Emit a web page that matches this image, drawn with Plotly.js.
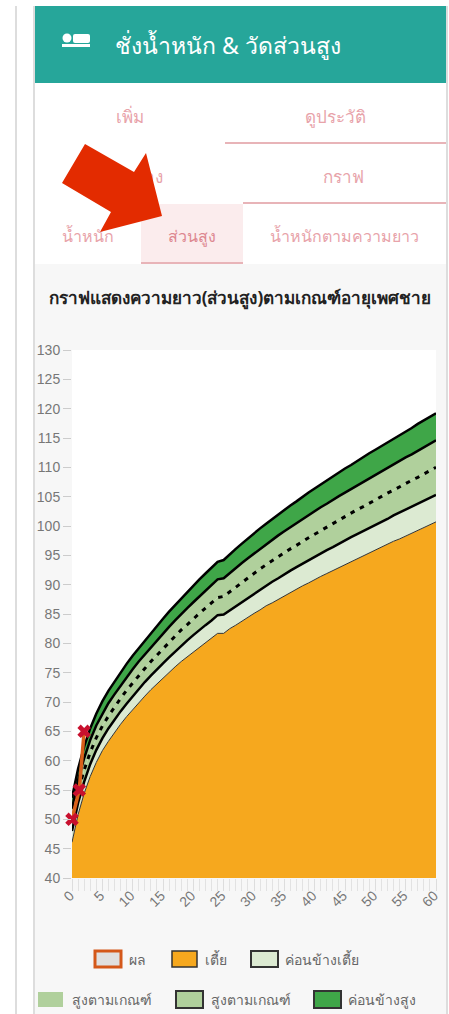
<!DOCTYPE html>
<html><head><meta charset="utf-8">
<script src="https://cdn.plot.ly/plotly-3.0.1.min.js"></script>
<style>
html,body{margin:0;padding:0;background:#fff;width:449px;height:1014px;overflow:hidden;font-family:"Noto Sans","Open Sans",sans-serif}
#page{position:absolute;left:0;top:0;width:449px;height:1014px}
.a{position:absolute}
.t{position:absolute;transform:translate(-50%,-50%);white-space:nowrap;color:#e8a3aa;font-size:16px}
#chart{position:absolute;left:0;top:0;width:449px;height:1014px}
</style></head><body>
<div id="page">
<div class="a" style="left:15px;top:6px;width:2px;height:1008px;background:#ddd"></div>
<div class="a" style="left:33px;top:6px;width:415px;height:1008px;background:#ddd"></div>
<div class="a" style="left:35px;top:6px;width:411px;height:258px;background:#fff"></div>
<div class="a" style="left:35px;top:264px;width:411px;height:750px;background:#f7f7f7"></div>
<div class="a" style="left:35px;top:6px;width:411px;height:77px;background:#26a69a"></div>
<svg class="a" style="left:60px;top:32px" width="32" height="20"><circle cx="7" cy="6" r="4.5" fill="#fff"/><rect x="13" y="2" width="17" height="9" rx="2" fill="#fff"/><rect x="2" y="12" width="28" height="3" fill="#fff"/></svg>
<div class="t" style="left:228px;top:46px;color:#fff;font-size:23px">ชั่งน้ำหนัก &amp; วัดส่วนสูง</div>
<div class="t" style="left:130px;top:116px;font-size:17px">เพิ่ม</div>
<div class="t" style="left:335px;top:116px;font-size:17px">ดูประวัติ</div>
<div class="a" style="left:225px;top:142px;width:221px;height:2px;background:#e8b4b8"></div>
<div class="t" style="left:139px;top:176px;font-size:17px">ตาราง</div>
<div class="t" style="left:343px;top:176px;font-size:17px">กราฟ</div>
<div class="a" style="left:243px;top:202px;width:203px;height:2px;background:#e8b4b8"></div>
<div class="a" style="left:141px;top:204px;width:102px;height:58px;background:#fbeced"></div>
<div class="a" style="left:141px;top:262px;width:102px;height:2px;background:#e8b4b8"></div>
<div class="t" style="left:88px;top:236px">น้ำหนัก</div>
<div class="t" style="left:192px;top:236px;color:#dd8790">ส่วนสูง</div>
<div class="t" style="left:344px;top:236px">น้ำหนักตามความยาว</div>
<svg class="a" style="left:0;top:0" width="449" height="264"><polygon points="85,144 134,172 146,153 162,216 100,232 111,212 62,183" fill="#e32b00"/></svg>
<div id="chart"></div>
</div>
<script>
var months=[];for(var m=0;m<=60;m++)months.push(m);
var sdMinus2=[46.1,50.8,54.4,57.3,59.7,61.7,63.3,64.8,66.2,67.5,68.7,69.9,71.0,72.1,73.1,74.1,75.0,76.0,76.9,77.7,78.6,79.4,80.2,81.0,81.7,81.7,82.5,83.1,83.8,84.5,85.1,85.7,86.4,86.9,87.5,88.1,88.7,89.2,89.8,90.3,90.9,91.4,91.9,92.4,93.0,93.5,94.0,94.4,94.9,95.4,95.9,96.4,96.9,97.4,97.8,98.3,98.8,99.3,99.7,100.2,100.7];
var sdMinus1=[48.0,52.8,56.4,59.4,61.8,63.8,65.5,67.0,68.4,69.7,71.0,72.2,73.4,74.5,75.6,76.6,77.6,78.6,79.6,80.5,81.4,82.3,83.1,83.9,84.8,84.9,85.6,86.4,87.1,87.8,88.5,89.2,89.9,90.5,91.1,91.8,92.4,93.0,93.6,94.2,94.7,95.3,95.9,96.4,97.0,97.5,98.1,98.6,99.1,99.7,100.2,100.7,101.2,101.8,102.3,102.8,103.3,103.8,104.3,104.8,105.3];
var median=[49.9,54.7,58.4,61.4,63.9,65.9,67.6,69.2,70.6,72.0,73.3,74.5,75.7,76.9,78.0,79.1,80.2,81.2,82.3,83.2,84.2,85.1,86.0,86.9,87.8,88.0,88.8,89.6,90.4,91.2,91.9,92.7,93.4,94.1,94.8,95.4,96.1,96.7,97.4,98.0,98.6,99.2,99.9,100.4,101.0,101.6,102.2,102.8,103.3,103.9,104.4,105.0,105.6,106.1,106.7,107.2,107.8,108.3,108.9,109.4,110.0];
var sdPlus1=[51.8,56.7,60.4,63.5,66.0,68.0,69.8,71.3,72.8,74.2,75.6,76.9,78.1,79.3,80.5,81.7,82.8,83.9,85.0,86.0,87.0,88.0,89.0,89.9,90.9,91.1,92.0,92.9,93.7,94.5,95.3,96.1,96.9,97.6,98.4,99.1,99.8,100.5,101.2,101.8,102.5,103.2,103.8,104.5,105.1,105.7,106.3,107.0,107.5,108.1,108.7,109.3,109.9,110.5,111.1,111.7,112.2,112.8,113.4,114.0,114.6];
var sdPlus2=[53.7,58.6,62.4,65.5,68.0,70.1,71.9,73.5,75.0,76.5,77.9,79.2,80.5,81.8,83.0,84.2,85.4,86.5,87.7,88.8,89.8,90.9,91.9,92.9,93.9,94.2,95.2,96.1,97.0,97.9,98.7,99.6,100.4,101.2,102.0,102.7,103.5,104.2,105.0,105.7,106.4,107.1,107.8,108.5,109.1,109.8,110.4,111.1,111.7,112.4,113.0,113.6,114.2,114.9,115.5,116.1,116.7,117.4,118.0,118.6,119.2];
var resultAge=[0,1.2,2];
var resultHeight=[50,55,65];
var legendNames=["ผล","เตี้ย","ค่อนข้างเตี้ย","สูงตามเกณฑ์","สูงตามเกณฑ์","ค่อนข้างสูง"];
var cOrange="#f6a81e",cLight="#dcead2",cMid="#b0d09c",cDark="#3fa648";
function band(y,fill,color,width,dash,name,mode){return {x:months,y:y,type:"scatter",mode:"lines",fill:mode,fillcolor:fill,name:name,hoverinfo:"skip",line:{color:color,width:width,dash:dash||"solid",shape:"linear"}};}
var traces=[
 band(sdMinus2,cOrange,"#333",1,null,legendNames[1],"tozeroy"),
 band(sdMinus1,cLight,"#000",2.5,null,legendNames[2],"tonexty"),
 band(median,cMid,"#000",3,"4.5px 6px",legendNames[3],"tonexty"),
 band(sdPlus1,cMid,"#000",2.5,null,legendNames[4],"tonexty"),
 band(sdPlus2,cDark,"#000",2.5,null,legendNames[5],"tonexty"),
 {x:resultAge,y:resultHeight,type:"scatter",mode:"lines+markers",name:legendNames[0],cliponaxis:false,
  line:{color:"#d9601a",width:3.5},marker:{symbol:"x",size:12,color:"#c8102e",line:{width:0}}}
];
var W=449,H=1014,L=72,T=350,PW=364,PH=528;
function px(x){return (x-L)/PW;} function py(y){return 1-(y-T)/PH;}
var items=[
 {x0:95,x1:121,y0:951,y1:967,fill:"#e0e0e0",line:"#d4581a",w:3,tx:127,ty:959,i:0},
 {x0:172,x1:197,y0:951,y1:967,fill:cOrange,line:"#333",w:1.5,tx:203,ty:959,i:1},
 {x0:251,x1:278,y0:951,y1:967,fill:cLight,line:"#333",w:2,tx:283,ty:959,i:2},
 {x0:38,x1:63,y0:992,y1:1007,fill:cMid,line:cMid,w:0,tx:70,ty:999,i:3},
 {x0:176,x1:203,y0:991,y1:1008,fill:cMid,line:"#333",w:2,tx:209,ty:999,i:4},
 {x0:314,x1:341,y0:991,y1:1008,fill:cDark,line:"#333",w:2,tx:346,ty:999,i:5}
];
var shapes=items.map(function(o){return {type:"rect",xref:"paper",yref:"paper",x0:px(o.x0),x1:px(o.x1),y0:py(o.y0),y1:py(o.y1),fillcolor:o.fill,line:{color:o.line,width:o.w}};});
var annos=items.map(function(o){return {xref:"paper",yref:"paper",x:px(o.tx),y:py(o.ty),xanchor:"left",yanchor:"middle",text:legendNames[o.i],showarrow:false,font:{size:14,color:"#666"}};});
var layout={
 width:W,height:H,autosize:false,showlegend:false,
 margin:{l:L,r:W-L-PW,t:T,b:H-T-PH,pad:0},
 paper_bgcolor:"rgba(0,0,0,0)",plot_bgcolor:"#fff",
 font:{family:'"Noto Sans","Liberation Sans",sans-serif',color:"#666"},
 title:{text:"<b>กราฟแสดงความยาว(ส่วนสูง)ตามเกณฑ์อายุเพศชาย</b>",x:240/W,xanchor:"center",xref:"container",yref:"container",y:1-298/H,yanchor:"middle",font:{size:17.1,color:"#222"}},
 xaxis:{range:[0,60],tickmode:"linear",tick0:0,dtick:5,tickangle:-45,ticks:"outside",ticklen:12,tickcolor:"#ddd",tickwidth:1,
  ticklabelstandoff:-9,ticklabelshift:-2,
  minor:{dtick:1,ticks:"outside",ticklen:12,tickcolor:"#e2e2e2",tickwidth:1},
  showgrid:false,zeroline:false,showline:false,tickfont:{family:'"Liberation Sans",sans-serif',size:14,color:"#777"}},
 yaxis:{range:[40,130],tickmode:"linear",tick0:40,dtick:5,ticks:"outside",ticklen:8,tickcolor:"#ccc",tickwidth:1,
  showgrid:false,zeroline:false,showline:false,tickfont:{family:'"Liberation Sans",sans-serif',size:14,color:"#777"}},
 shapes:shapes,annotations:annos
};
Plotly.newPlot("chart",traces,layout,{displayModeBar:false,staticPlot:true});
</script>
</body></html>
